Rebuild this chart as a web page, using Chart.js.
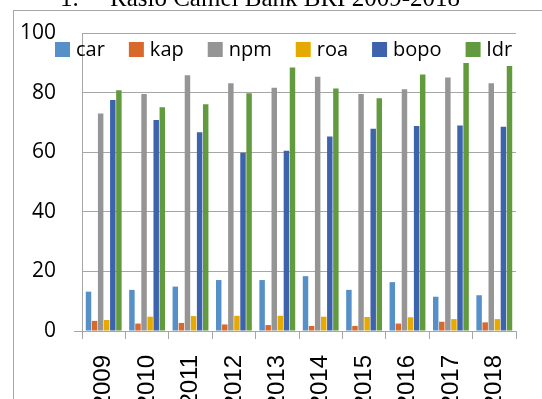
<!DOCTYPE html>
<html>
<head>
<meta charset="utf-8">
<script src="https://cdn.jsdelivr.net/npm/chart.js@4/dist/chart.umd.min.js"></script>
<style>
  body { margin: 0; background: #fff; }
  #wrap { width: 542px; height: 399px; position: relative; }
</style>
</head>
<body>
<div id="wrap"><canvas id="rasio" width="542" height="399"></canvas></div>
<script>
const years = ['2009', '2010', '2011', '2012', '2013', '2014', '2015', '2016', '2017', '2018'];
const car  = [13.2, 13.8, 14.9, 17.1, 17.1, 18.4, 13.8, 16.4, 11.5, 12.0];
const kap  = [3.4, 2.5, 2.7, 2.2, 2.0, 1.7, 1.7, 2.5, 3.1, 2.9];
const npm  = [73.0, 79.5, 85.8, 83.1, 81.6, 85.3, 79.5, 81.1, 85.1, 83.1];
const roa  = [3.7, 4.8, 5.0, 5.1, 5.1, 4.8, 4.7, 4.6, 4.0, 4.0];
const bopo = [77.5, 70.8, 66.7, 59.8, 60.5, 65.3, 67.9, 68.8, 69.0, 68.5];
const ldr  = [80.8, 75.1, 76.1, 79.8, 88.4, 81.4, 78.1, 86.1, 89.9, 88.9];
const yTicks = [0, 20, 40, 60, 80, 100];

const gray = '#a6a6a6';

// border box, title line and legend drawn by hand (legend sits inside the plot)
const extras = {
    id: 'extras',
    beforeDraw(chart) {
        const ctx = chart.ctx;
        ctx.save();
        ctx.strokeStyle = gray;
        ctx.lineWidth = 1;
        ctx.strokeRect(13.5, 10.5, 700, 600);
        ctx.fillStyle = '#000';
        ctx.font = '25px "Liberation Serif"';
        ctx.textBaseline = 'alphabetic';
        ctx.fillText('1.', 60, 6);
        ctx.fillText('Rasio Camel Bank BRI 2009-2018', 110, 6);
        ctx.restore();
    },
    afterDraw(chart) {
        const ctx = chart.ctx;
        ctx.save();
        ctx.font = '20px "Open Sans"';
        ctx.textBaseline = 'middle';
        let x = 55;
        chart.data.datasets.forEach(ds => {
            ctx.fillStyle = ds.backgroundColor;
            ctx.fillRect(x, 42, 15, 15);
            ctx.fillStyle = '#000';
            ctx.fillText(ds.label, x + 21, 50);
            x += 21 + ctx.measureText(ds.label).width + 24;
        });
        ctx.restore();
    }
};

new Chart(document.getElementById('rasio'), {
    type: 'bar',
    data: {
        labels: years,
        datasets: [
            { label: 'car', data: car, backgroundColor: '#5590c8' },
            { label: 'kap', data: kap, backgroundColor: '#d9692a' },
            { label: 'npm', data: npm, backgroundColor: '#959595' },
            { label: 'roa', data: roa, backgroundColor: '#e6a900' },
            { label: 'bopo', data: bopo, backgroundColor: '#3d63ad' },
            { label: 'ldr', data: ldr, backgroundColor: '#629b3d' }
        ]
    },
    options: {
        responsive: false,
        animation: false,
        layout: { padding: { top: 33, right: 26, left: 0, bottom: 0 } },
        datasets: {
            bar: { categoryPercentage: 0.84, barPercentage: 0.9 }
        },
        scales: {
            x: {
                afterFit: s => { s.height = 68; },
                grid: {
                    offset: true,
                    drawOnChartArea: false,
                    tickLength: 8,
                    color: gray
                },
                border: { color: gray },
                ticks: {
                    minRotation: 90,
                    maxRotation: 90,
                    padding: 16,
                    color: '#000',
                    font: { family: '"Liberation Sans"', size: 24 }
                }
            },
            y: {
                min: 0,
                max: 100,
                afterFit: s => { s.width = 82; },
                afterBuildTicks: s => { s.ticks = yTicks.map(v => ({ value: v })); },
                grid: {
                    color: gray,
                    tickLength: 8,
                    tickColor: c => (c.tick && c.tick.value === 0 ? gray : 'rgba(0,0,0,0)')
                },
                border: { color: gray },
                ticks: {
                    padding: 18,
                    color: '#000',
                    font: { family: '"Open Sans"', size: 21 }
                }
            }
        },
        plugins: {
            legend: { display: false },
            tooltip: { enabled: false }
        }
    },
    plugins: [extras]
});
</script>
</body>
</html>
